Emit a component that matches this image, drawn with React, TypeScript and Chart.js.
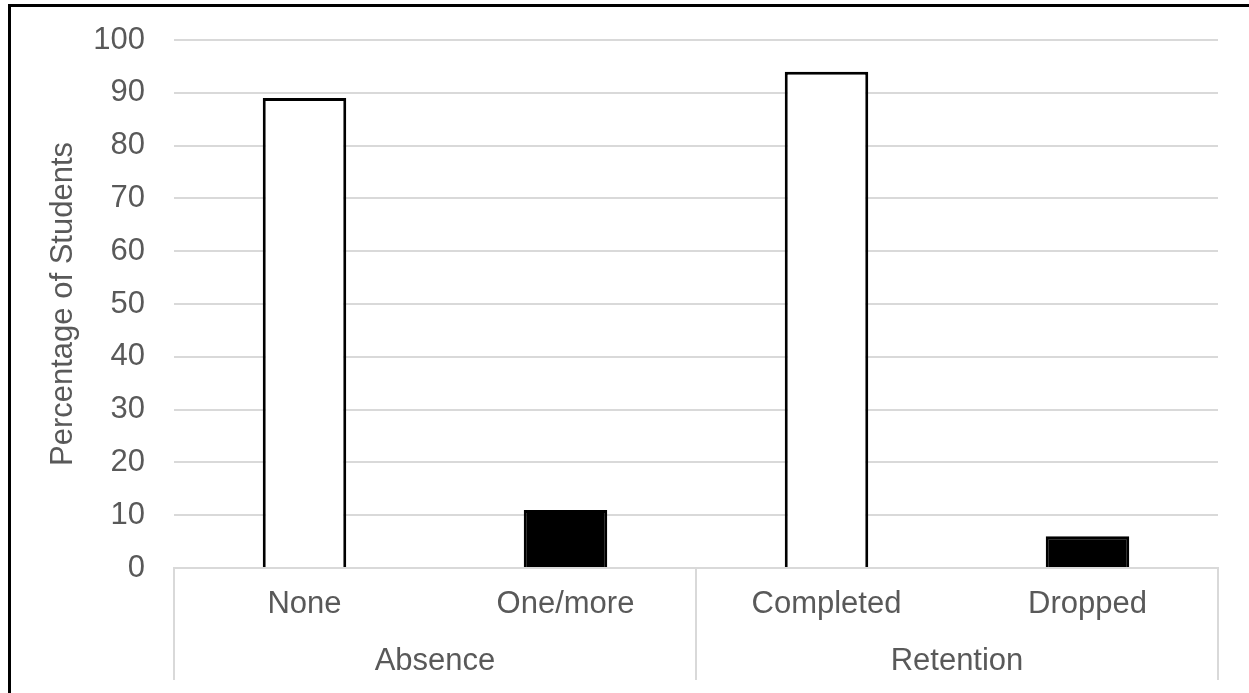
import React, { useEffect, useRef } from "react";
import { Chart, registerables } from "chart.js";

Chart.register(...registerables);

const groups = ["Absence", "Retention"];
const groupSizes = [2, 2];
const categories = ["None", "One/more", "Completed", "Dropped"];
const values = [89, 11, 94, 6];
const barFills = ["#ffffff", "#000000", "#ffffff", "#000000"];
const yMin = 0;
const yMax = 100;
const yStep = 10;
const yTitle = "Percentage of Students";

const FONT = '"Liberation Sans", Arial, sans-serif';
const FONT_SIZE = 31;
const TEXT = "#595959";
const GRID = "#d9d9d9";

const groupAxisPlugin = {
  id: "groupAxis",
  afterDraw(chart: any) {
    const xs = chart.scales.x;
    const area = chart.chartArea;
    const ctx = chart.ctx;
    ctx.save();
    ctx.strokeStyle = GRID;
    ctx.lineWidth = 2;
    const bounds: number[] = [];
    let idx = 0;
    bounds.push(xs.getPixelForValue(-0.5));
    groupSizes.forEach((n) => {
      idx += n;
      bounds.push(xs.getPixelForValue(idx - 0.5));
    });
    bounds.forEach((bx) => {
      ctx.beginPath();
      ctx.moveTo(bx, area.bottom - 1);
      ctx.lineTo(bx, area.bottom + 112);
      ctx.stroke();
    });
    ctx.fillStyle = TEXT;
    ctx.font = `${FONT_SIZE}px ${FONT}`;
    ctx.textAlign = "center";
    ctx.textBaseline = "middle";
    groups.forEach((g, i) => {
      const cx = (bounds[i] + bounds[i + 1]) / 2;
      ctx.fillText(g, cx, area.bottom + 93);
    });
    ctx.restore();
  },
};

export default function App() {
  const ref = useRef<HTMLCanvasElement | null>(null);

  useEffect(() => {
    if (!ref.current) return;
    const chart = new Chart(ref.current, {
      type: "bar",
      data: {
        labels: categories,
        datasets: [
          {
            data: values,
            backgroundColor: barFills,
            borderColor: "#000000",
            borderWidth: 3,
            barPercentage: 0.32,
            categoryPercentage: 1,
          },
        ],
      },
      options: {
        animation: false,
        responsive: true,
        maintainAspectRatio: false,
        layout: { padding: { left: 0, top: 40, right: 31, bottom: 0 } },
        plugins: {
          legend: { display: false },
          tooltip: { enabled: false },
        },
        scales: {
          x: {
            grid: { display: false, drawTicks: false },
            border: { display: false },
            ticks: {
              color: TEXT,
              font: { family: FONT, size: FONT_SIZE },
              padding: 18,
              maxRotation: 0,
              autoSkip: false,
            },
            afterFit(scale: any) {
              scale.height = 125;
              scale.paddingLeft = 0;
              scale.paddingRight = 0;
            },
          },
          y: {
            min: yMin,
            max: yMax,
            grid: { color: GRID, lineWidth: 2, drawTicks: false },
            border: { display: false },
            ticks: {
              stepSize: yStep,
              color: TEXT,
              font: { family: FONT, size: FONT_SIZE },
              padding: 29,
            },
            title: {
              display: true,
              text: yTitle,
              color: TEXT,
              font: { family: FONT, size: FONT_SIZE },
              padding: { top: 45, bottom: 0 },
            },
            afterFit(scale: any) {
              scale.width = 174;
              scale.paddingTop = 0;
              scale.paddingBottom = 0;
            },
          },
        },
      },
      plugins: [groupAxisPlugin],
    });
    return () => chart.destroy();
  }, []);

  return (
    <div
      style={{
        position: "absolute",
        left: 0,
        top: 0,
        width: 1249,
        height: 693,
        background: "#ffffff",
        overflow: "hidden",
      }}
    >
      <div
        style={{
          position: "absolute",
          left: 8,
          top: 4,
          right: 0,
          bottom: 0,
          borderTop: "3px solid #000",
          borderLeft: "3px solid #000",
        }}
      />
      <div style={{ position: "absolute", left: 0, top: 0, width: 1249, height: 693 }}>
        <canvas ref={ref} />
      </div>
    </div>
  );
}
